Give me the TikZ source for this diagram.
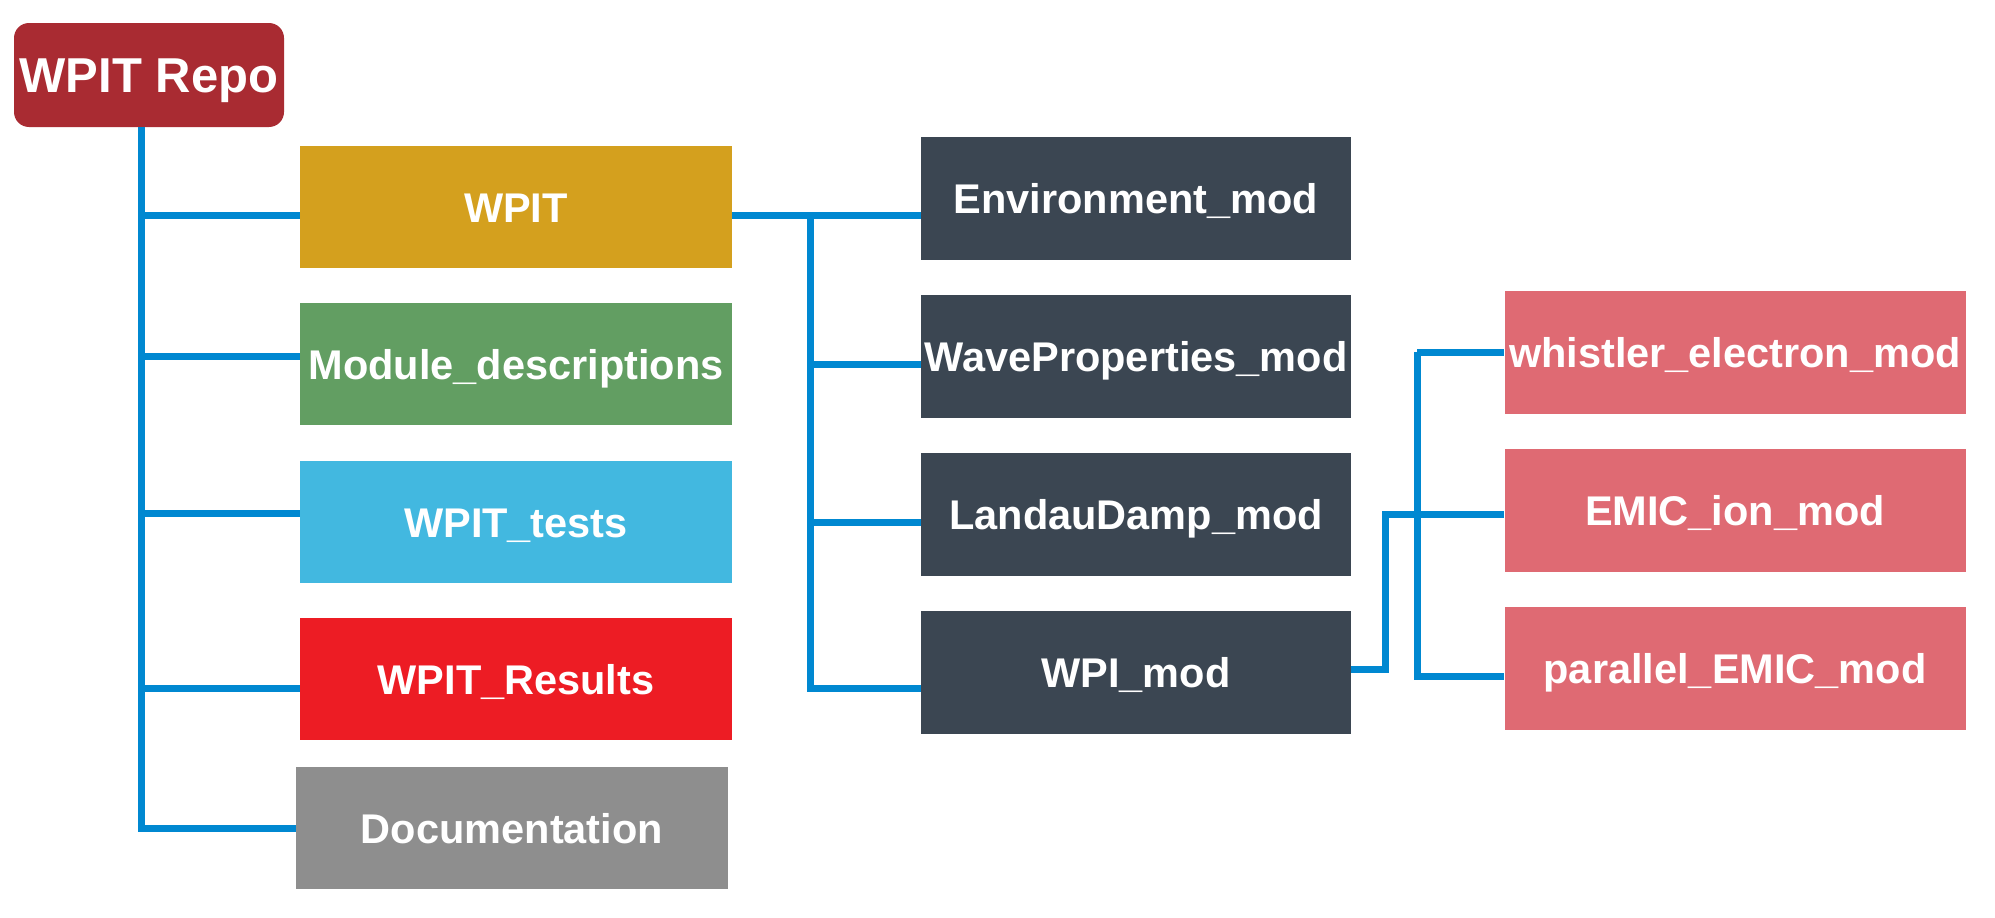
\documentclass[tikz,border=0pt]{standalone}
\usepackage{fontspec}
\setmainfont{Liberation Sans}
\usepackage{tikz}
\usetikzlibrary{calc}
\definecolor{repored}{HTML}{A92B32}
\definecolor{wpitgold}{HTML}{D4A01E}
\definecolor{descgreen}{HTML}{629E62}
\definecolor{testblue}{HTML}{42B8E0}
\definecolor{resred}{HTML}{ED1C24}
\definecolor{docgray}{HTML}{8E8E8E}
\definecolor{modslate}{HTML}{3B4652}
\definecolor{wavepink}{HTML}{DF6A73}
\definecolor{linkblue}{HTML}{0088D1}

\begin{document}
\begin{tikzpicture}[x=1pt,y=-1pt,
  box/.style={rectangle,inner sep=0pt,text=white,text height=30pt,text depth=0pt,font=\fontsize{41.5}{48}\selectfont\bfseries},
  dirbox/.style={box,minimum width=432pt,minimum height=122pt},
  modbox/.style={box,fill=modslate,minimum width=430pt,minimum height=123pt},
  wavebox/.style={box,fill=wavepink,minimum width=461pt,minimum height=123pt},
  link/.style={draw=linkblue,line width=7pt,line join=miter}]
\useasboundingbox[fill=white] (0,0) rectangle (1995,918);
\node[box,fill=repored,rounded corners=15pt,minimum width=270pt,minimum height=104pt,text height=35pt,font=\fontsize{49}{56}\selectfont\bfseries] (repo) at (149,75) {WPIT Repo};
\node[dirbox,fill=wpitgold] (wpit) at (516,207) {WPIT};
\node[dirbox,fill=descgreen] (desc) at (516,364) {Module\_descriptions};
\node[dirbox,fill=testblue] (tests) at (516,522) {WPIT\_tests};
\node[dirbox,fill=resred] (results) at (516,679) {WPIT\_Results};
\node[dirbox,fill=docgray] (doc) at (512,828) {Documentation};
\node[modbox] (env) at (1136,198) {Environment\_mod};
\node[modbox] (wave) at (1136,356) {WaveProperties\_mod};
\node[modbox] (landau) at (1136,514) {LandauDamp\_mod};
\node[modbox] (wpi) at (1136,672) {WPI\_mod};
\node[wavebox] (whistler) at (1735,352) {whistler\_electron\_mod};
\node[wavebox] (emic) at (1735,510) {EMIC\_ion\_mod};
\node[wavebox] (parallel) at (1735,668) {parallel\_EMIC\_mod};
\coordinate (trunk) at (141,0);
\coordinate (modtrunk) at (810,0);
\coordinate (wpijoint) at (1385,0);
\coordinate (wavetrunk) at (1417,0);
\draw[link] (trunk |- repo.south) |- (doc.west);
\draw[link] (trunk |- wpit.west) ++(0,8) -- ($(wpit.west)+(0,8)$);
\draw[link] (trunk |- desc.west) ++(0,-8) -- ($(desc.west)+(0,-8)$);
\draw[link] (trunk |- tests.west) ++(0,-9) -- ($(tests.west)+(0,-9)$);
\draw[link] (trunk |- results.west) ++(0,9) -- ($(results.west)+(0,9)$);
\draw[link] ($(wpit.east)+(0,8)$) -- ($(wpit.east -| env.west)+(0,8)$);
\draw[link] ($(modtrunk |- wpit.east)+(0,8)$) |- ($(wpi.west)+(0,16)$);
\draw[link] ($(modtrunk |- wave.west)+(0,8)$) -- ($(wave.west)+(0,8)$);
\draw[link] ($(modtrunk |- landau.west)+(0,8)$) -- ($(landau.west)+(0,8)$);
\draw[link] ($(wpi.east)+(0,-3)$) -| ($(wpijoint |- emic.west)+(0,4)$) -- ($(emic.west)+(0,4)$);
\draw[link] (wavetrunk |- whistler.west) -- (whistler.west);
\draw[link] (wavetrunk |- whistler.west) |- ($(parallel.west)+(0,8)$);
\end{tikzpicture}
\end{document}
